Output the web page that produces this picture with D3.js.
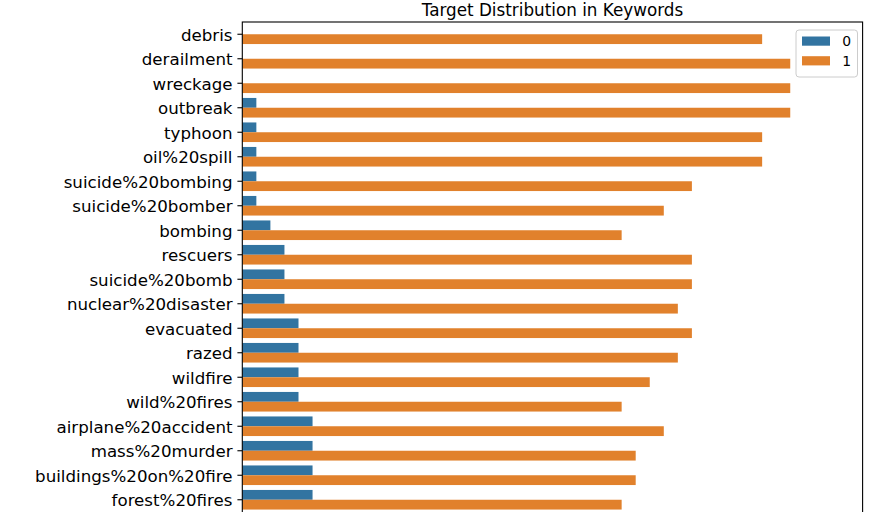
<!DOCTYPE html>
<html>
<head>
<meta charset="utf-8">
<script src="https://cdn.jsdelivr.net/npm/d3@7"></script>
<style>
  html, body { margin: 0; padding: 0; background: #fff; }
  svg { display: block; }
  text { font-family: "DejaVu Sans", sans-serif; fill: #000; }
</style>
</head>
<body>
<svg id="chart" width="872" height="512"></svg>
<script>
const categories = ["debris","derailment","wreckage","outbreak","typhoon","oil%20spill",
  "suicide%20bombing","suicide%20bomber","bombing","rescuers","suicide%20bomb",
  "nuclear%20disaster","evacuated","razed","wildfire","wild%20fires",
  "airplane%20accident","mass%20murder","buildings%20on%20fire","forest%20fires"];
const target0 = [0,0,0,1,1,1,1,1,2,3,3,3,4,4,4,4,5,5,5,5];
const target1 = [37,39,39,39,37,37,32,30,27,32,32,31,32,31,29,27,30,28,28,27];
const hueLabels = ["0","1"];
const hueColors = ["#3274a1","#e1812c"];
const chartTitle = "Target Distribution in Keywords";
const xMax = 44.15;

const svg = d3.select("#chart");
const mLeft = 242.3, mRight = 862.6, mTop = 22, mBottom = 512;

const x = d3.scaleLinear().domain([0, xMax]).range([mLeft, mRight]);
const y = d3.scaleBand().domain(categories).range([mTop, mBottom]).paddingInner(0).paddingOuter(0);
const hue = d3.scaleBand().domain(hueLabels).range([0, y.step() * 0.8]);
const off = y.step() * 0.1;

const rows = categories.map((c, i) => ({c, v: [target0[i], target1[i]]}));

const g = svg.append("g");
rows.forEach(r => {
  hueLabels.forEach((h, j) => {
    g.append("rect")
      .attr("x", x(0))
      .attr("y", y(r.c) + off + hue(h))
      .attr("width", x(r.v[j]) - x(0))
      .attr("height", hue.bandwidth())
      .attr("fill", hueColors[j]);
  });
});

// axes frame
svg.append("rect")
  .attr("x", mLeft).attr("y", mTop)
  .attr("width", mRight - mLeft).attr("height", mBottom - mTop + 2)
  .attr("fill", "none").attr("stroke", "#000").attr("stroke-width", 1.1);

// y axis
const yAxis = d3.axisLeft(y).tickSize(4.9).tickPadding(4.9);
const ya = svg.append("g").attr("transform", `translate(${mLeft},0)`).call(yAxis);
ya.select(".domain").remove();
ya.selectAll(".tick line").attr("stroke", "#000").attr("stroke-width", 1.1);
ya.selectAll(".tick text").style("font-size", "16.67px").attr("fill", "#000").attr("dy", "0.38em");

// title
svg.append("text")
  .attr("x", (mLeft + mRight) / 2).attr("y", 15.8)
  .attr("text-anchor", "middle")
  .style("font-size", "16.8px")
  .text(chartTitle);

// legend
const lg = svg.append("g").attr("transform", "translate(796,30)");
lg.append("rect").attr("width", 61.5).attr("height", 47).attr("rx", 3)
  .attr("fill", "#fff").attr("fill-opacity", 0.8)
  .attr("stroke", "#cccccc").attr("stroke-width", 1);
hueLabels.forEach((h, j) => {
  lg.append("rect").attr("x", 6).attr("y", 6.5 + j * 19.7).attr("width", 28).attr("height", 9.2)
    .attr("fill", hueColors[j]);
  lg.append("text").attr("x", 46.3).attr("y", 15.8 + j * 19.7).style("font-size", "13.9px").text(h);
});
</script>
</body>
</html>
